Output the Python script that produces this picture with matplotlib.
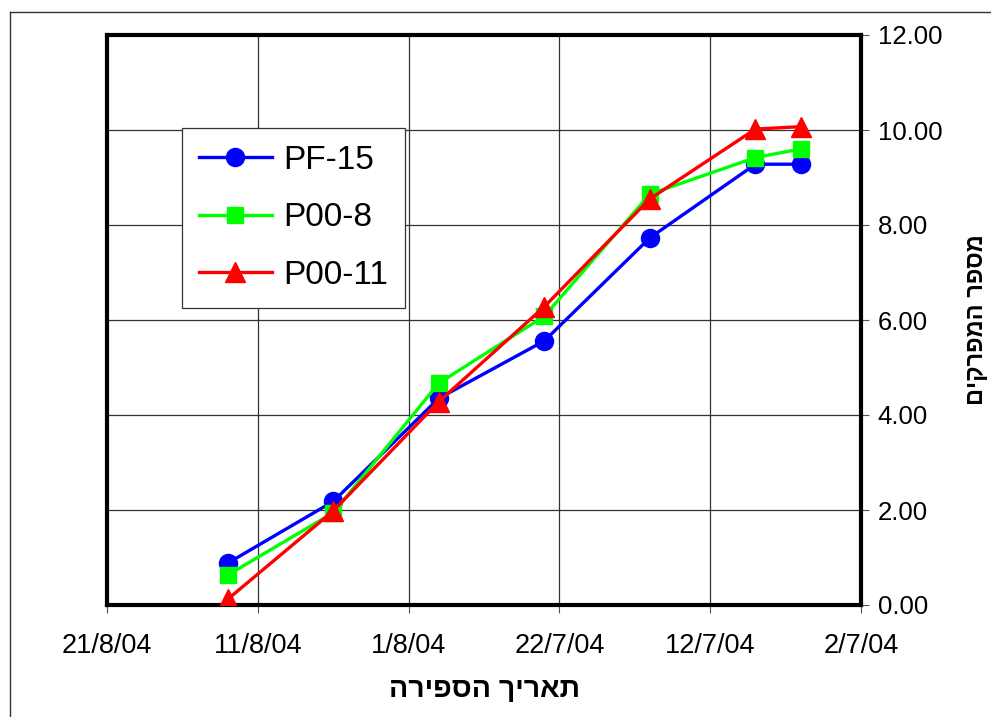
import datetime as dt
import matplotlib
matplotlib.use("Agg")
import matplotlib.pyplot as plt
import matplotlib.dates as mdates
from matplotlib.ticker import FuncFormatter, MultipleLocator
from matplotlib.lines import Line2D

plt.rcParams["font.family"] = ["Liberation Sans", "DejaVu Sans"]

# dates of counting and number of nodes per line
dates = [dt.date(2004, 8, 13), dt.date(2004, 8, 6), dt.date(2004, 7, 30),
         dt.date(2004, 7, 23), dt.date(2004, 7, 16), dt.date(2004, 7, 9),
         dt.date(2004, 7, 6)]
pf15 = [0.88, 2.18, 4.35, 5.56, 7.73, 9.28, 9.28]
p00_8 = [0.63, 1.94, 4.67, 6.08, 8.65, 9.42, 9.60]
p00_11 = [0.12, 1.98, 4.28, 6.28, 8.55, 10.02, 10.07]

x_ticks = [dt.date(2004, 8, 21), dt.date(2004, 8, 11), dt.date(2004, 8, 1),
           dt.date(2004, 7, 22), dt.date(2004, 7, 12), dt.date(2004, 7, 2)]

# hebrew strings, reversed for left-to-right drawing
xlabel = "תאריך הספירה"[::-1]
ylabel = "מספר המפרקים"[::-1]

fig = plt.figure(figsize=(9.91, 7.17), dpi=100)
ax = fig.add_axes([107/991, 1 - 605/717, 754/991, 570/717])

ax.plot(dates, pf15, "-o", color="#0000FF", lw=2.4, ms=13, label="PF-15", zorder=3)
ax.plot(dates, p00_8, "-s", color="#00FF00", lw=2.4, ms=12, label="P00-8", zorder=4)
ax.plot(dates, p00_11, "-^", color="#FF0000", lw=2.4, ms=14, label="P00-11", zorder=5)

ax.set_xlim(mdates.date2num(x_ticks[0]), mdates.date2num(x_ticks[-1]))
ax.set_ylim(0, 12)
ax.set_xticks(mdates.date2num(x_ticks))
ax.set_xticklabels([f"{d.day}/{d.month}/{d:%y}" for d in x_ticks])
ax.yaxis.set_major_locator(MultipleLocator(2))
ax.yaxis.set_major_formatter(FuncFormatter(lambda v, p: f"{v:.2f}"))
ax.yaxis.tick_right()
ax.yaxis.set_label_position("right")

ax.grid(True, color="#333333", lw=0.9)
for s in ax.spines.values():
    s.set_linewidth(3)
ax.tick_params(axis="x", direction="out", length=6, width=0.8, color="#555555",
               labelsize=19.5, pad=14)
ax.tick_params(axis="y", direction="out", length=6, width=0.8, color="#555555",
               labelsize=18.5, pad=6)

ax.set_xlabel(xlabel, fontsize=20.5, fontweight="bold", labelpad=13)
ax.set_ylabel(ylabel, fontsize=17, fontweight="bold", rotation=90, labelpad=16)

leg = ax.legend(loc="upper left", bbox_to_anchor=(0.0995, 0.837), borderaxespad=0,
                fontsize=24, handlelength=2.2, labelspacing=0.8, borderpad=0.5,
                handletextpad=0.35, fancybox=False, framealpha=1)
leg.get_frame().set_edgecolor("#333333")
leg.get_frame().set_linewidth(0.9)

# outer chart border
fig.add_artist(Line2D([10/991, 10/991], [0, 1 - 12/717], color="#333333", lw=1))
fig.add_artist(Line2D([10/991, 1], [1 - 12/717, 1 - 12/717], color="#333333", lw=1))

fig.savefig("out.png", dpi=100)
